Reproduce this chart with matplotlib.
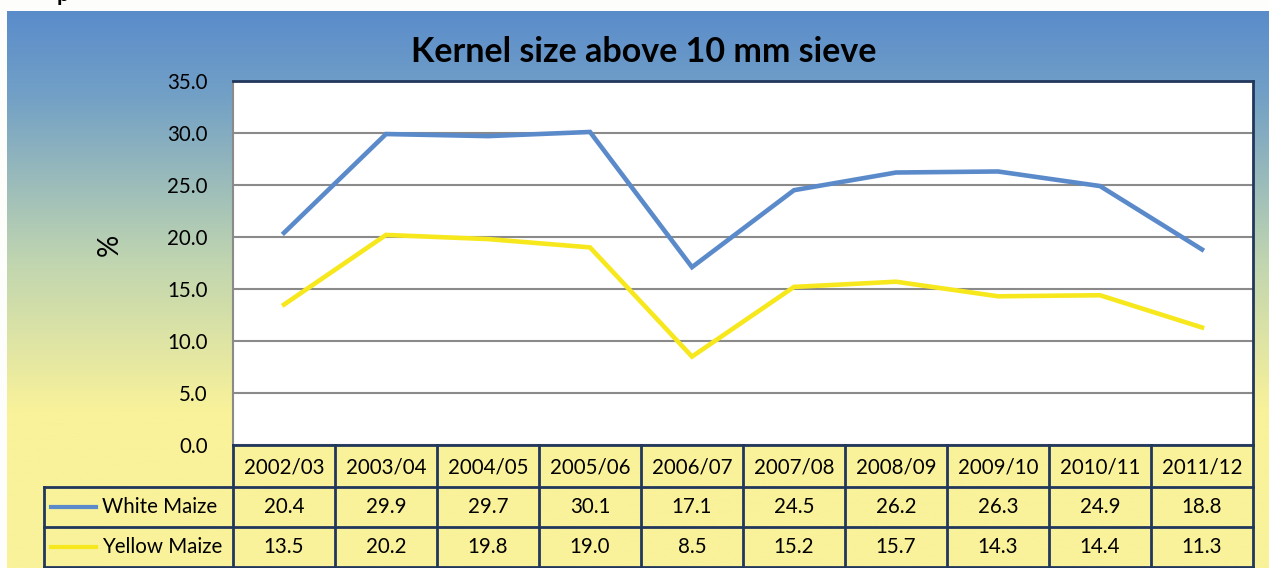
import matplotlib.pyplot as plt
import numpy as np
from matplotlib.colors import LinearSegmentedColormap

plt.rcParams['font.family'] = ['Lato', 'DejaVu Sans']

# data
seasons = ['2002/03', '2003/04', '2004/05', '2005/06', '2006/07',
           '2007/08', '2008/09', '2009/10', '2010/11', '2011/12']
white_maize = [20.4, 29.9, 29.7, 30.1, 17.1, 24.5, 26.2, 26.3, 24.9, 18.8]
yellow_maize = [13.5, 20.2, 19.8, 19.0, 8.5, 15.2, 15.7, 14.3, 14.4, 11.3]
series_names = ['White Maize', 'Yellow Maize']
y_ticks = [0, 5, 10, 15, 20, 25, 30, 35]

blue = '#5B8ACB'
yellow = '#F6E81C'
navy = '#22375C'
fs = 14.8

W, H = 1269, 568
fig = plt.figure(figsize=(W / 100, H / 100), dpi=100)
fig.patch.set_facecolor('#FDFDFB')

# piece of slide text peeking in at the top
fig.text(57 / W, 1 - 1 / H, 'p', fontsize=16, fontweight='bold', color='black',
         va='baseline', ha='left')

# gradient background of the chart box
bg = fig.add_axes([7 / W, 0, 1 - 7 / W, (H - 11) / H])
cmap = LinearSegmentedColormap.from_list('bg', [
    (0.0, '#5A8CCB'), (0.15, '#72A0C6'), (0.45, '#C0D5B0'),
    (0.72, '#F9F29A'), (1.0, '#F9F29A')])
grad = np.linspace(0, 1, 256).reshape(-1, 1)
bg.imshow(grad, aspect='auto', cmap=cmap, extent=[0, 1, 0, 1], origin='upper')
bg.axis('off')

# plot area
ax = fig.add_axes([233 / W, (H - 445) / H, 1020 / W, 364 / H])
ax.set_facecolor('white')
x = np.arange(len(seasons)) + 0.5
ax.plot(x, white_maize, color=blue, lw=3.3, solid_joinstyle='miter', zorder=3)
ax.plot(x, yellow_maize, color=yellow, lw=3.3, solid_joinstyle='miter', zorder=3)
ax.set_xlim(0, len(seasons))
ax.set_ylim(0, 35)
ax.set_yticks(y_ticks)
ax.set_yticklabels(['%.1f' % v for v in y_ticks], fontsize=fs)
ax.set_xticks([])
ax.tick_params(axis='y', length=0, pad=18)
ax.grid(axis='y', color='#8A8A8A', lw=1.5)
ax.set_axisbelow(True)
for s in ['top', 'right']:
    ax.spines[s].set_color(navy)
    ax.spines[s].set_linewidth(2)
ax.spines['left'].set_color('#8A8A8A')
ax.spines['left'].set_linewidth(1.5)
ax.spines['bottom'].set_visible(False)
ax.set_ylabel('%', fontsize=20)
ax.yaxis.set_label_coords(-0.108, 0.55)

fig.text(644 / W, 1 - 52 / H, 'Kernel size above 10 mm sieve',
         fontsize=24.5, fontweight='bold', ha='center', va='center')

# data table below the plot
tb = fig.add_axes([44 / W, 1 / H, 1209 / W, 122 / H])
tb.axis('off')
lc = -189 / 102
tb.set_xlim(lc, 10)
tb.set_ylim(122, 0)
kw = dict(color=navy, lw=2, clip_on=False)
tb.plot([0, 10], [0, 0], **kw)
for yy in [42, 82, 122]:
    tb.plot([lc, 10], [yy, yy], **kw)
for xx in range(11):
    tb.plot([xx, xx], [0, 122], **kw)
tb.plot([lc, lc], [42, 122], **kw)

for i, s in enumerate(seasons):
    tb.text(i + 0.5, 22, s, ha='center', va='center', fontsize=fs)
rows = [white_maize, yellow_maize]
colors = [blue, yellow]
for r, (vals, name, c) in enumerate(zip(rows, series_names, colors)):
    yc = 62 + 40 * r
    tb.plot([(51 - 233) / 102, (96 - 233) / 102], [yc, yc], color=c, lw=3)
    tb.text((102 - 233) / 102, yc, name, ha='left', va='center', fontsize=fs)
    for i, v in enumerate(vals):
        tb.text(i + 0.5, yc, '%.1f' % v, ha='center', va='center', fontsize=fs)

fig.savefig('out.png', dpi=100)
